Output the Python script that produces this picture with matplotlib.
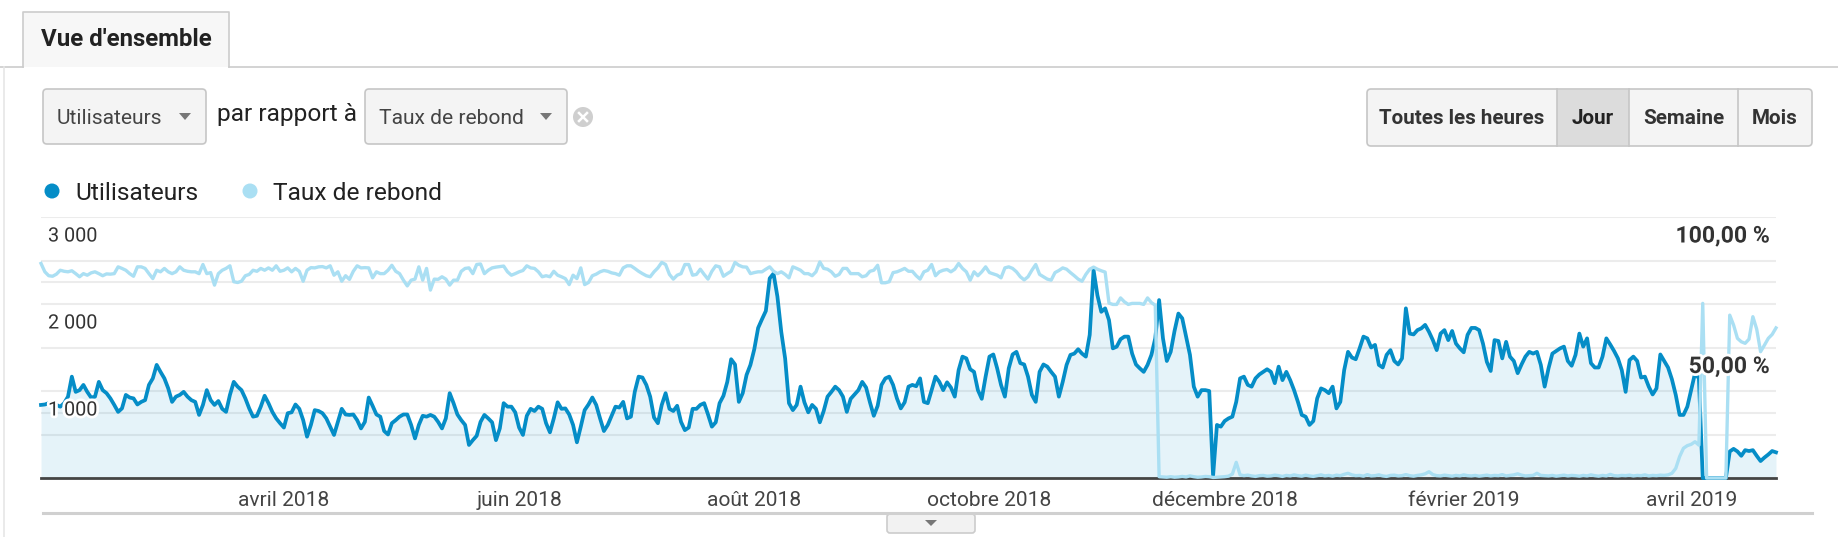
import matplotlib
matplotlib.use("Agg")
import matplotlib.pyplot as plt
import matplotlib.patheffects as pe
import matplotlib.transforms as mtransforms
from matplotlib.patches import FancyBboxPatch, Rectangle, Circle, Polygon
import pandas as pd

plt.rcParams['font.family'] = ['Roboto', 'DejaVu Sans']

W, H = 1838, 537

# donnees journalieres, a partir du 28 janvier 2018
debut = "2018-01-28"

utilisateurs = [
    840, 845, 860, 840, 840, 820, 860, 935, 1165, 990,
    1010, 1070, 990, 925, 935, 1105, 1010, 975, 915, 840,
    760, 800, 955, 925, 915, 845, 875, 895, 1070, 1145,
    1300, 1220, 1145, 1030, 875, 935, 955, 990, 935, 895,
    875, 725, 840, 1010, 895, 840, 885, 795, 760, 955,
    1105, 1050, 1010, 915, 800, 705, 715, 820, 945, 860,
    760, 685, 630, 580, 745,
    755, 845, 795, 665, 475, 610, 780, 770, 745, 685,
    590, 495, 645, 795, 730, 725, 730, 665, 570, 645,
    925, 830, 730, 705, 540, 500, 630, 665, 705, 730,
    730, 610, 455, 610, 715, 705, 725, 705, 645, 570,
    685, 975, 860, 730, 665, 610, 380, 435, 485, 645,
    725, 685, 640, 435, 570, 860, 820, 820, 755, 580,
    495, 715, 795, 770, 820,
    795, 630, 525, 685, 870, 795, 800, 730, 610, 410,
    590, 780, 845, 925, 840, 685, 540, 610, 715, 820,
    810, 875, 685, 705, 990, 1165, 1155, 1070, 935, 695,
    630, 840, 975, 795, 770, 830, 645, 550, 580, 795,
    795, 840, 860, 730, 590, 640, 860, 945, 1105, 1365,
    1305, 875, 975, 1185, 1300, 1480, 1725, 1825, 1920, 2295,
    2350, 2085, 1680, 1375, 860,
    780, 840, 1050, 870, 755, 840, 795, 640, 770, 935,
    990, 1050, 1010, 935, 760, 910, 960, 1010, 1105, 1040,
    870, 715, 830, 1070, 1145, 1165, 1070, 915, 800, 870,
    1050, 1070, 1055, 1145, 875, 860, 1010, 1165, 1105, 1010,
    1100, 1040, 935, 1240, 1395, 1375, 1250, 1220, 1010, 910,
    1165, 1395, 1420, 1260, 1070, 935, 1260, 1420, 1450, 1320,
    1305, 1165, 955, 875, 1220,
    1305, 1280, 1220, 1165, 935, 1105, 1300, 1415, 1430, 1480,
    1430, 1395, 1645, 2390, 2100, 1910, 1950, 1815, 1490, 1510,
    1595, 1625, 1625, 1430, 1305, 1260, 1220, 1300, 1415, 1605,
    2045, 1605, 1345, 1450, 1690, 1890, 1835, 1625, 1415, 1050,
    935, 1010, 1010, 1000, 25, 610, 590, 655, 685, 705,
    875, 1145, 1165, 1070, 1050, 1145, 1190, 1220, 1250, 1220,
    1090, 1280, 1125, 1220, 1125,
    1010, 875, 725, 705, 610, 655, 915, 1030, 1010, 975,
    1050, 800, 875, 1240, 1450, 1385, 1365, 1490, 1625, 1605,
    1500, 1530, 1300, 1270, 1415, 1470, 1345, 1305, 1375, 1950,
    1660, 1650, 1700, 1720, 1760, 1680, 1585, 1470, 1660, 1700,
    1585, 1690, 1545, 1490, 1445, 1645, 1725, 1725, 1700, 1545,
    1335, 1230, 1585, 1575, 1375, 1565, 1395, 1345, 1205, 1305,
    1395, 1450, 1430, 1450, 1300,
    1050, 1260, 1430, 1460, 1490, 1510, 1345, 1290, 1415, 1660,
    1510, 1605, 1320, 1270, 1270, 1395, 1605, 1535, 1460, 1375,
    1240, 990, 1355, 1395, 1345, 1155, 1165, 1050, 960, 1030,
    1420, 1345, 1270, 1135, 955, 725, 725, 820, 1010, 1205,
    1145, 0, 0, 0, 0, 0, 0, 0, 305, 335,
    305, 255, 320, 310, 320, 255, 195, 235, 270, 310,
    295,
]

# taux de rebond en %
taux_rebond = [
    82.2, 79.0, 77.5, 77.3, 78.1, 79.6, 79.2, 79.0, 79.4, 78.3,
    77.1, 78.3, 77.7, 78.6, 79.0, 78.3, 77.5, 78.2, 78.1, 78.3,
    80.9, 80.3, 79.6, 78.3, 77.3, 80.9, 80.9, 80.3, 78.3, 76.4,
    79.6, 79.0, 80.3, 79.0, 78.3, 79.0, 80.9, 79.6, 79.2, 79.0,
    79.0, 78.3, 81.8, 78.3, 78.7, 73.9, 78.3, 79.6, 80.3, 81.3,
    75.2, 74.9, 75.4, 77.5, 78.0, 79.6, 79.2, 80.3, 79.6, 80.5,
    79.6, 81.3, 79.2, 79.6, 80.5,
    79.0, 80.3, 79.2, 75.4, 79.6, 80.6, 80.5, 80.9, 81.0, 80.5,
    81.3, 77.7, 79.0, 75.4, 77.5, 76.1, 79.2, 81.3, 80.5, 80.6,
    80.5, 76.7, 79.0, 78.3, 78.3, 79.6, 81.5, 79.2, 78.3, 75.8,
    73.6, 75.8, 76.2, 80.9, 75.8, 80.3, 72.0, 76.2, 76.1, 77.1,
    76.2, 73.9, 75.8, 75.8, 79.2, 80.3, 80.5, 78.3, 81.8, 82.0,
    78.3, 79.6, 80.5, 80.8, 81.0, 81.2, 79.0, 77.7, 78.3, 79.0,
    79.5, 81.3, 80.5, 80.3, 79.0,
    77.1, 77.5, 77.1, 79.2, 77.7, 77.1, 76.4, 74.1, 77.7, 76.4,
    80.5, 74.1, 74.9, 77.5, 78.1, 79.0, 79.5, 79.2, 78.6, 78.3,
    77.7, 80.5, 81.3, 81.3, 80.3, 79.2, 78.3, 77.5, 77.1, 79.0,
    80.5, 82.6, 81.8, 78.0, 76.2, 77.7, 78.3, 81.8, 81.8, 77.7,
    78.0, 80.0, 78.0, 76.2, 79.2, 81.3, 80.9, 77.3, 78.3, 79.2,
    82.6, 81.5, 80.9, 80.8, 78.3, 78.7, 79.0, 79.0, 80.0, 80.9,
    79.2, 78.3, 79.0, 78.0, 76.7,
    80.9, 80.3, 79.6, 78.3, 78.3, 77.5, 79.0, 82.8, 80.3, 80.0,
    79.0, 77.3, 78.0, 80.3, 80.3, 78.3, 78.3, 78.3, 77.1, 77.5,
    79.2, 79.6, 81.5, 74.8, 74.8, 75.2, 78.7, 79.0, 79.6, 80.3,
    79.2, 79.2, 77.5, 76.2, 79.0, 79.6, 81.8, 77.5, 79.0, 79.6,
    79.9, 79.0, 80.0, 82.2, 80.3, 79.0, 75.8, 79.0, 77.5, 79.0,
    80.9, 78.7, 78.2, 77.7, 76.7, 80.5, 80.9, 80.3, 79.0, 77.1,
    75.9, 77.1, 79.6, 81.8, 78.0,
    77.1, 76.2, 75.8, 78.7, 79.5, 80.5, 80.0, 78.7, 77.5, 76.2,
    75.4, 78.0, 80.0, 80.8, 80.0, 79.4, 78.9, 67.0, 66.5, 66.5,
    69.0, 67.5, 66.5, 66.9, 66.9, 66.9, 66.5, 69.0, 67.2, 66.2,
    0.5,
    0.4, 0.3, 0.5, 0.3, 0.4, 0.6, 0.4, 0.8, 0.5, 0.3,
    0.4, 0.6, 0.5, 0.2, 0.3, 0.4, 0.5, 0.7, 1.5, 6.0,
    1.2, 0.9, 1.1, 0.8, 0.6, 0.9, 1.0, 0.7, 0.8, 1.1,
    0.9, 0.6, 1.0, 0.8, 1.2, 0.9, 0.7, 1.1, 0.8, 0.6,
    0.9, 1.2, 0.8, 1.0, 0.7, 1.1, 0.9, 1.4, 1.8, 1.2,
    0.9, 1.0, 0.7, 1.3, 0.8, 0.9, 1.2, 0.8, 0.6, 1.0,
    1.1, 0.8, 0.9, 1.3, 0.9, 0.7, 1.0, 1.2, 1.6, 2.4,
    1.3, 0.9, 0.8, 1.1, 0.9, 0.7, 1.0, 0.8, 1.2, 0.9,
    0.8, 1.0, 0.7, 0.9, 1.1, 0.8, 1.0, 0.9, 1.3, 0.8,
    1.0, 1.2, 1.6, 1.1, 0.8, 0.9, 1.0, 1.8, 1.0, 0.9,
    0.8, 1.0, 0.7, 0.9, 1.1, 0.8, 1.0, 0.9, 0.7, 1.0,
    0.8, 1.2, 0.9, 0.7, 1.0, 0.8, 1.4, 0.9, 0.8, 1.0,
    0.9, 1.1, 0.8, 1.0, 0.9, 1.2, 0.8, 1.0, 0.9, 1.1,
    1.0, 1.2,
    1.8, 3.7, 8.2, 11.4, 12.4, 12.9, 13.9, 12.6, 66.9,
    0, 0, 0, 0, 0, 0,
    62.4, 58.6, 53.5, 52.2, 51.6, 53.2, 61.8, 57.0, 48.4, 50.9,
    53.5, 55.0, 57.5,
]

mois_ticks = ["2018-04-01", "2018-06-01", "2018-08-01", "2018-10-01",
              "2018-12-01", "2019-02-01", "2019-04-01"]
mois_labels = ["avril 2018", "juin 2018", "août 2018", "octobre 2018",
               "décembre 2018", "février 2019", "avril 2019"]
graduations_users = [1000, 2000, 3000]
graduations_taux = [50, 100]
periodes = ["Toutes les heures", "Jour", "Semaine", "Mois"]

BLEU = "#058dc7"
BLEU_CLAIR = "#aadff3"

jours = pd.date_range(debut, periods=len(utilisateurs), freq="D")


def pt(px):
    return px * 0.72


fig = plt.figure(figsize=(W / 100, H / 100), dpi=100)

# --- interface autour du graphique (coordonnees en pixels)
ui = fig.add_axes([0, 0, 1, 1])
ui.set_xlim(0, W)
ui.set_ylim(H, 0)
ui.axis("off")

ui.plot([0, 23], [67, 67], color="#cccccc", lw=1.2)
ui.plot([229, W], [67, 67], color="#cccccc", lw=1.2)
ui.plot([4, 4], [67, H], color="#e6e6e6", lw=1.2)
ui.add_patch(Rectangle((23, 12), 206, 55, fc="#f7f7f7", ec="none"))
ui.plot([23, 23, 229, 229], [67, 12, 12, 67], color="#cccccc", lw=1.2)
ui.text(41, 40, "Vue d'ensemble", fontsize=pt(24), fontweight="bold",
        color="#222222", va="center")


def menu(x0, x1, label):
    ui.add_patch(FancyBboxPatch((x0, 89), x1 - x0, 55,
                                boxstyle="round,pad=0,rounding_size=4",
                                fc="#f4f4f4", ec="#c6c6c6", lw=1.2))
    ui.text(x0 + 14, 118, label, fontsize=pt(21), color="#444444", va="center")
    ax_ = x1 - 21
    ui.add_patch(Polygon([(ax_ - 6, 113), (ax_ + 6, 113), (ax_, 120)],
                         closed=True, fc="#777777", ec="none"))


menu(43, 206, "Utilisateurs")
ui.text(217, 115, "par rapport à", fontsize=pt(24.5), color="#222222", va="center")
menu(365, 567, "Taux de rebond")
ui.add_patch(Circle((583, 117), 10, fc="#cfcfcf", ec="none"))
ui.plot([579, 587], [113, 121], color="white", lw=1.8)
ui.plot([579, 587], [121, 113], color="white", lw=1.8)

bords = [1367, 1557, 1629, 1738, 1812]
ui.add_patch(FancyBboxPatch((1367, 89), 1812 - 1367, 57,
                            boxstyle="round,pad=0,rounding_size=4",
                            fc="#f4f4f4", ec="#c6c6c6", lw=1.2))
ui.add_patch(Rectangle((1557, 90), 72, 55, fc="#dcdcdc", ec="none"))
for b in bords[1:-1]:
    ui.plot([b, b], [89, 146], color="#c6c6c6", lw=1.2)
for i, nom in enumerate(periodes):
    ui.text((bords[i] + bords[i + 1]) / 2, 118, nom, fontsize=pt(20.6),
            fontweight="bold", color="#333333" if nom != "Jour" else "#222222",
            ha="center", va="center")

ui.add_patch(Circle((52, 191), 7.5, fc=BLEU, ec="none"))
ui.text(75, 193, "Utilisateurs", fontsize=pt(24.5), color="#222222", va="center")
ui.add_patch(Circle((250, 191), 7.5, fc=BLEU_CLAIR, ec="none"))
ui.text(273, 193, "Taux de rebond", fontsize=pt(24.5), color="#222222", va="center")

ui.plot([43, 1812], [513, 513], color="#d0d0d0", lw=2.2)
ui.add_patch(FancyBboxPatch((887, 514), 88, 19,
                            boxstyle="round,pad=0,rounding_size=3",
                            fc="#f2f2f2", ec="#cccccc", lw=1.2))
ui.add_patch(Polygon([(925, 520), (937, 520), (931, 526)], closed=True,
                     fc="#777777", ec="none"))

# --- graphique
ax = fig.add_axes([41 / W, (H - 478) / H, (1776 - 41) / W, (478 - 217) / H])
ax.patch.set_alpha(0)
ax.set_xlim(jours[0], jours[-1])
ax.set_ylim(0, 3000)
ax2 = ax.twinx()
ax2.set_ylim(0, 100)

for v in range(500, 3001, 500):
    ax.axhline(v, color="#ececec", lw=1.5, zorder=0)
blend2 = mtransforms.blended_transform_factory(ax.transAxes, ax2.transData)
for p in (25, 75):
    ax.plot([0, 1], [p, p], transform=blend2, color="#ececec", lw=1.5, zorder=0)

ax.fill_between(jours, utilisateurs, color=BLEU, alpha=0.1, lw=0, zorder=1)
ax.plot(jours, utilisateurs, color=BLEU, lw=2.7, zorder=3, clip_on=False,
        solid_joinstyle="round")
ax2.plot(jours, taux_rebond, color=BLEU_CLAIR, lw=2.4, zorder=2, clip_on=False,
         solid_joinstyle="round")

for s in ax.spines.values():
    s.set_visible(False)
for s in ax2.spines.values():
    s.set_visible(False)
ax.spines["bottom"].set_visible(True)
ax.spines["bottom"].set_color("#444444")
ax.spines["bottom"].set_linewidth(2.0)
ax.spines["bottom"].set_zorder(1.5)

ax.set_yticks([])
ax2.set_yticks([])
ax.set_xticks(pd.to_datetime(mois_ticks))
ax.set_xticklabels(mois_labels, fontsize=pt(21), color="#444444")
ax.tick_params(axis="x", length=0, pad=9)

halo = [pe.withStroke(linewidth=4, foreground="white")]
blend1 = mtransforms.blended_transform_factory(ax.transAxes, ax.transData)
for v in graduations_users:
    ax2.annotate(f"{v:,}".replace(",", " "), xy=(0, v), xycoords=blend1,
                 xytext=(7, -19), textcoords="offset pixels",
                 fontsize=pt(19.8), color="#333333", va="center", ha="left",
                 path_effects=halo, zorder=10)
for p in graduations_taux:
    ax2.annotate(f"{p:.2f}".replace(".", ",") + " %", xy=(1, p), xycoords=blend2,
                 xytext=(-6, -19), textcoords="offset pixels",
                 fontsize=pt(23), fontweight="bold", color="#333333",
                 va="center", ha="right", path_effects=halo, zorder=10)

fig.savefig("out.png", dpi=100)
